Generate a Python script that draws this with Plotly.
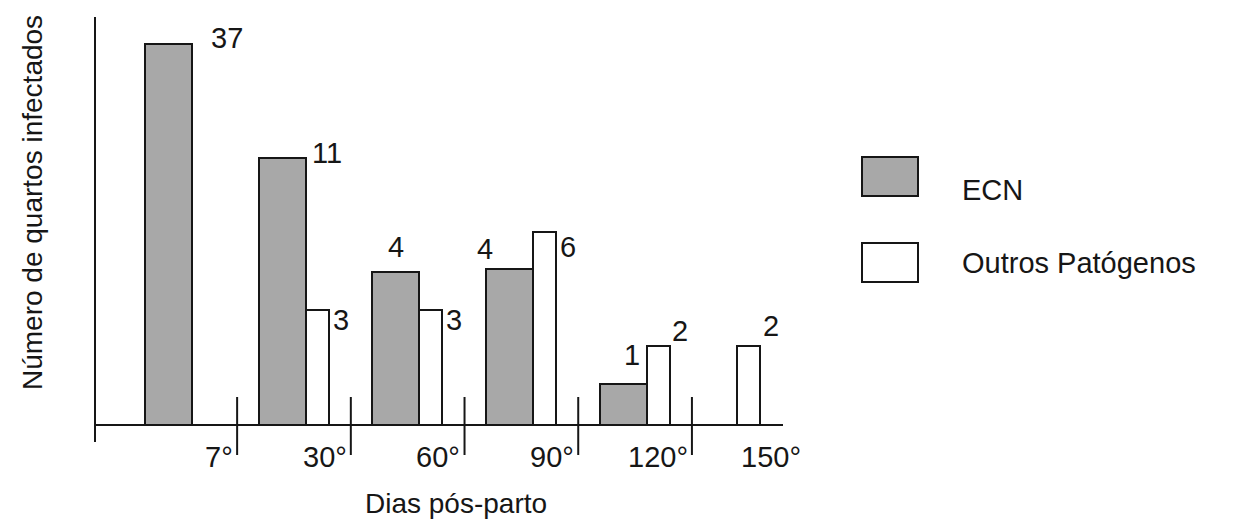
import plotly.graph_objects as go

# ---- data ----
days = ["7°", "30°", "60°", "90°", "120°", "150°"]
ecn_counts = [37, 11, 4, 4, 1, 0]
outros_counts = [0, 3, 3, 6, 2, 2]
# bar heights as drawn in the original figure (the drawing is not to scale), arbitrary units
ecn_drawn = [38.05, 26.65, 15.25, 15.55, 4.05, 0]
outros_drawn = [0, 11.45, 11.45, 19.25, 7.85, 7.85]
series_names = ["ECN", "Outros Patógenos"]

# ---- styling / geometry ----
PAGE = 8                      # default page margin around the plot div
W, H = 1245 - PAGE, 523 - PAGE
PLOT_L, PLOT_R, PLOT_T, PLOT_B = 95, 783, 17, 442   # plot area in screen pixels
ML, MR = PLOT_L - PAGE, W - (PLOT_R - PAGE)
MT, MB = PLOT_T - PAGE, H - (PLOT_B - PAGE)
XMIN, XMAX = -0.75, 5.301
YMIN, YMAX = -1.75, 40.75
ECN_W, ECN_OFF = 0.413, -0.31
OUT_W = 0.202
FONT = "Liberation Sans, Arial, Helvetica, sans-serif"
INK = "#161616"
GRAY = "#a8a8a8"

pw, ph = PLOT_R - PLOT_L, PLOT_B - PLOT_T


def px_x(px):
    return (px - PLOT_L) / pw


def px_y(py):
    return (PLOT_B - py) / ph


def data_x_to_paper(x):
    return (x - XMIN) / (XMAX - XMIN)


idx = list(range(len(days)))
out_off = [ECN_OFF + ECN_W if e else -OUT_W / 2 for e in ecn_counts]

fig = go.Figure()
fig.add_trace(go.Bar(
    x=idx, y=[h if c else None for h, c in zip(ecn_drawn, ecn_counts)],
    width=ECN_W, offset=ECN_OFF, name=series_names[0],
    marker=dict(color=GRAY, line=dict(color=INK, width=2)),
    hoverinfo="skip", showlegend=False,
))
fig.add_trace(go.Bar(
    x=idx, y=[h if c else None for h, c in zip(outros_drawn, outros_counts)],
    width=OUT_W, offset=out_off, name=series_names[1],
    marker=dict(color="white", line=dict(color=INK, width=2)),
    hoverinfo="skip", showlegend=False,
))

annotations = []
# value labels (placement style per label: reference edge, anchor, shifts in px)
ecn_label_style = {0: ("right", "left", 17, 6), 1: ("right", "left", 4, 5),
                   2: ("center", "center", 0, 25), 3: ("left", "center", -1, 20),
                   4: ("right", "center", -15, 29)}
out_label_style = {1: ("right", "left", 2, -10), 2: ("right", "left", 2, -10),
                   3: ("right", "left", 2, -15), 4: ("right", "left", 0, 15),
                   5: ("right", "left", 1, 20)}

for counts, heights, offs, width, styles in [
    (ecn_counts, ecn_drawn, [ECN_OFF] * len(idx), ECN_W, ecn_label_style),
    (outros_counts, outros_drawn, out_off, OUT_W, out_label_style),
]:
    for i in idx:
        if not counts[i]:
            continue
        ref, xa, xs, ys = styles[i]
        left = i + offs[i]
        xref_val = {"left": left, "center": left + width / 2, "right": left + width}[ref]
        annotations.append(dict(
            x=xref_val, y=heights[i], xref="x", yref="y", text=str(counts[i]),
            showarrow=False, xanchor=xa, yanchor="middle", xshift=xs, yshift=ys,
            font=dict(family=FONT, size=29, color=INK),
        ))

# category labels, right-aligned against the separator ticks
for i, d in enumerate(days):
    annotations.append(dict(
        x=data_x_to_paper(i + 0.48), y=px_y(457), xref="paper", yref="paper", text=d,
        showarrow=False, xanchor="right", yanchor="middle",
        font=dict(family=FONT, size=29, color=INK),
    ))

# axis titles
annotations.append(dict(
    x=px_x(456), y=px_y(503), xref="paper", yref="paper", text="Dias pós-parto",
    showarrow=False, xanchor="center", yanchor="middle",
    font=dict(family=FONT, size=28, color=INK),
))
annotations.append(dict(
    x=px_x(32), y=px_y(203), xref="paper", yref="paper", text="Número de quartos infectados",
    showarrow=False, textangle=-90, xanchor="center", yanchor="middle",
    font=dict(family=FONT, size=28, color=INK),
))

shapes = []
# separator ticks crossing the x axis
for i in range(len(days) - 1):
    xp = data_x_to_paper(i + 0.5)
    shapes.append(dict(type="line", xref="paper", yref="paper",
                       x0=xp, x1=xp, y0=px_y(397), y1=px_y(455),
                       line=dict(color=INK, width=2)))

# y axis line (extends a little below the baseline)
shapes.append(dict(type="line", xref="paper", yref="paper", x0=0, x1=0,
                   y0=px_y(442), y1=px_y(17), line=dict(color=INK, width=2)))

# legend
legend_items = [(series_names[0], GRAY, 157, 196, 190), (series_names[1], "white", 243, 282, 263)]
for name, fill, top, bot, ty in legend_items:
    shapes.append(dict(type="rect", xref="paper", yref="paper",
                       x0=px_x(862), x1=px_x(918), y0=px_y(bot), y1=px_y(top),
                       fillcolor=fill, line=dict(color=INK, width=2)))
    annotations.append(dict(
        x=px_x(960), y=px_y(ty), xref="paper", yref="paper", text=name,
        showarrow=False, xanchor="left", yanchor="middle",
        font=dict(family=FONT, size=29, color=INK),
    ))

fig.update_layout(
    width=W, height=H, autosize=False,
    margin=dict(l=ML, r=MR, t=MT, b=MB, pad=0),
    paper_bgcolor="white", plot_bgcolor="white",
    barmode="overlay", bargap=0,
    xaxis=dict(range=[XMIN, XMAX], visible=False, fixedrange=True),
    yaxis=dict(range=[YMIN, YMAX], showgrid=False, showticklabels=False, ticks="",
               showline=False, zeroline=True, zerolinecolor=INK, zerolinewidth=2,
               fixedrange=True),
    annotations=annotations, shapes=shapes, showlegend=False,
)

fig.write_html("out.html")
